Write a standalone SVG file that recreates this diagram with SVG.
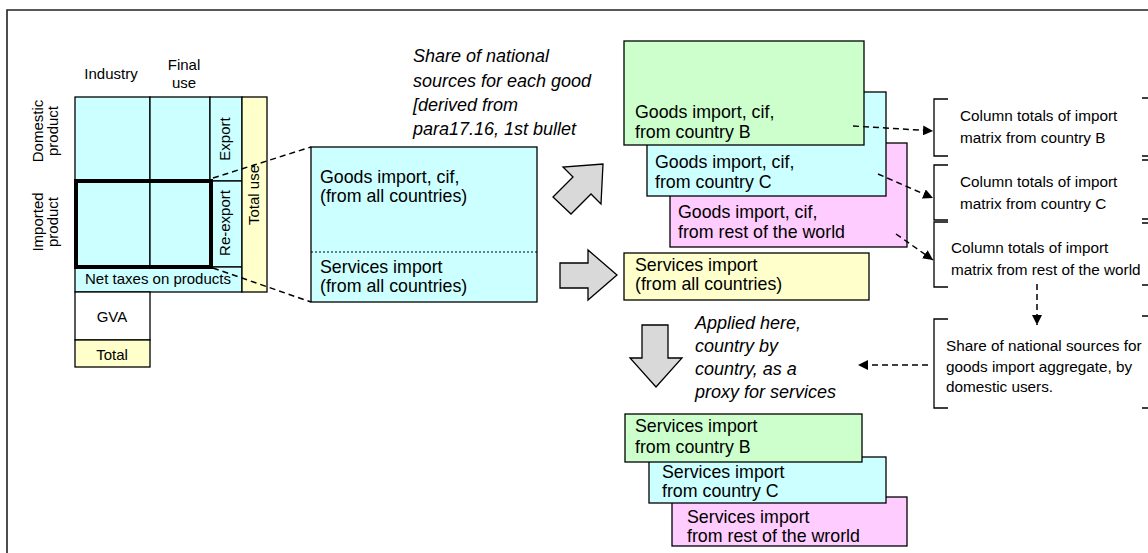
<svg xmlns="http://www.w3.org/2000/svg" width="1148" height="553" viewBox="0 0 1148 553">
<defs>
<style>
.t{font-family:"Liberation Sans",Arial,sans-serif;fill:#000}
.s15{font-size:15px}
.s18{font-size:17.8px}
.it{font-size:18px;font-style:italic}
.br{font-size:15.3px}
.cell{stroke:#000;stroke-width:1.3}
.cy{fill:#ccffff}
.ye{fill:#ffffcc}
.gr{fill:#ccffcc}
.pk{fill:#ffccff}
.wh{fill:#ffffff}
.big{fill:#d9d9d9;stroke:#000;stroke-width:1.3;stroke-linejoin:miter}
.dash{fill:none;stroke:#000;stroke-width:1.5;stroke-dasharray:6 4}
.brk{fill:none;stroke:#000;stroke-width:1.3}
</style>
<marker id="ah" viewBox="0 0 10 10" refX="10" refY="5" markerWidth="10" markerHeight="10" markerUnits="userSpaceOnUse" orient="auto">
<path d="M0,0 L10,5 L0,10 z" fill="#000"/>
</marker>
</defs>
<rect width="1148" height="553" fill="#fff"/>
<path d="M7,553 V10 H1148" fill="none" stroke="#222" stroke-width="1.6"/>

<g id="table">
<rect class="cell cy" x="75" y="97" width="75" height="84"/>
<rect class="cell cy" x="150" y="97" width="60" height="84"/>
<rect class="cell cy" x="210" y="97" width="32" height="84"/>
<rect class="cell cy" x="75" y="181" width="75" height="86"/>
<rect class="cell cy" x="150" y="181" width="60" height="86"/>
<rect class="cell cy" x="210" y="181" width="32" height="86"/>
<rect class="cell cy" x="75" y="267" width="167" height="25"/>
<rect class="cell ye" x="242" y="97" width="25" height="195"/>
<rect class="cell wh" x="75" y="292" width="75" height="48"/>
<rect class="cell ye" x="75" y="340" width="75" height="27"/>
<rect x="76" y="181" width="135" height="86" fill="none" stroke="#000" stroke-width="4"/>
<text class="t s15" x="111" y="79" text-anchor="middle">Industry</text>
<text class="t s15" x="184" y="70" text-anchor="middle">Final</text>
<text class="t s15" x="184" y="88" text-anchor="middle">use</text>
<text class="t s15" transform="translate(43,131) rotate(-90)" text-anchor="middle">Domestic</text>
<text class="t s15" transform="translate(58,131) rotate(-90)" text-anchor="middle">product</text>
<text class="t s15" transform="translate(43,222) rotate(-90)" text-anchor="middle">Imported</text>
<text class="t s15" transform="translate(58,222) rotate(-90)" text-anchor="middle">product</text>
<text class="t s15" transform="translate(230,139) rotate(-90)" text-anchor="middle">Export</text>
<text class="t s15" transform="translate(230,223) rotate(-90)" text-anchor="middle">Re-export</text>
<text class="t s15" transform="translate(259,195) rotate(-90)" text-anchor="middle">Total use</text>
<text class="t s15" x="158" y="284" text-anchor="middle">Net taxes on products</text>
<text class="t s15" x="112" y="322" text-anchor="middle">GVA</text>
<text class="t s15" x="112" y="360" text-anchor="middle">Total</text>
</g>

<g id="imports-all">
<rect class="cell cy" x="311" y="147" width="226" height="155"/>
<line x1="311" y1="252" x2="537" y2="252" stroke="#000" stroke-width="1.2" stroke-dasharray="2 2"/>
<text class="t s18" x="320" y="183">Goods import, cif,</text>
<text class="t s18" x="320" y="202">(from all countries)</text>
<text class="t s18" x="320" y="273">Services import</text>
<text class="t s18" x="320" y="292">(from all countries)</text>
</g>

<g id="note-share">
<text class="t it" x="413" y="62">Share of national</text>
<text class="t it" x="413" y="87">sources for each good</text>
<text class="t it" x="413" y="111">[derived from</text>
<text class="t it" x="413" y="135">para17.16, 1st bullet</text>
</g>

<g id="big-arrows">
<polygon class="big" points="603,164 601,204 591,194 571,214 553,197 573,177 563,167"/>
<polygon class="big" points="560,263 588,263 588,250 617,275 588,300 588,288 560,288"/>
<polygon class="big" points="642,325 668,325 668,358 682,358 656,387 630,358 642,358"/>
</g>

<g id="goods-rw">
<rect class="cell pk" x="670" y="143" width="237" height="104"/>
<text class="t s18" x="678" y="218">Goods import, cif,</text>
<text class="t s18" x="678" y="238">from rest of the world</text>
</g>
<g id="goods-c">
<rect class="cell cy" x="647" y="92" width="239" height="104"/>
<text class="t s18" x="655" y="168">Goods import, cif,</text>
<text class="t s18" x="655" y="188">from country C</text>
</g>
<g id="goods-b">
<rect class="cell gr" x="624" y="41" width="240" height="104"/>
<text class="t s18" x="635" y="118">Goods import, cif,</text>
<text class="t s18" x="635" y="138">from country B</text>
</g>
<g id="services-all">
<rect class="cell ye" x="624" y="253" width="245" height="47"/>
<text class="t s18" x="635" y="271">Services import</text>
<text class="t s18" x="635" y="290">(from all countries)</text>
</g>

<g id="note-applied">
<text class="t it" x="695" y="329">Applied here,</text>
<text class="t it" x="695" y="352">country by</text>
<text class="t it" x="695" y="375">country, as a</text>
<text class="t it" x="695" y="398">proxy for services</text>
</g>

<g id="services-rw">
<rect class="cell pk" x="672" y="497" width="235" height="49"/>
<text class="t s18" x="687" y="523">Services import</text>
<text class="t s18" x="687" y="542">from rest of the wrorld</text>
</g>
<g id="services-c">
<rect class="cell cy" x="649" y="457" width="237" height="46"/>
<text class="t s18" x="662" y="478">Services import</text>
<text class="t s18" x="662" y="497">from country C</text>
</g>
<g id="services-b">
<rect class="cell gr" x="625" y="414" width="237" height="48"/>
<text class="t s18" x="635" y="432">Services import</text>
<text class="t s18" x="635" y="453">from country B</text>
</g>

<g id="totals-b">
<path class="brk" d="M948,99 H934 V156 H948"/>
<text class="t br" x="960" y="121">Column totals of import</text>
<text class="t br" x="960" y="143">matrix from country B</text>
</g>
<g id="totals-c">
<path class="brk" d="M948,165 H934 V220 H948"/>
<text class="t br" x="960" y="187">Column totals of import</text>
<text class="t br" x="960" y="209">matrix from country C</text>
</g>
<g id="totals-rw">
<path class="brk" d="M948,222 H934 V287 H948"/>
<text class="t br" x="951" y="253">Column totals of import</text>
<text class="t br" x="951" y="275">matrix from rest of the world</text>
</g>
<g id="share-domestic">
<path class="brk" d="M948,319 H934 V408 H948"/>
<text class="t br" x="946" y="351">Share of national sources for</text>
<text class="t br" x="946" y="372">goods import aggregate, by</text>
<text class="t br" x="946" y="392">domestic users.</text>
</g>
<g id="edge-ticks">
<path class="brk" d="M1142,98 H1148 M1142,156 H1148 M1142,160 H1148 M1142,219 H1148 M1142,223 H1148 M1142,285 H1148 M1142,316 H1148 M1142,408 H1148"/>
</g>

<g id="connectors">
<line class="dash" x1="213" y1="178" x2="311" y2="147"/>
<line class="dash" x1="213" y1="268" x2="311" y2="302"/>
<line class="dash" x1="853" y1="126" x2="933" y2="131" marker-end="url(#ah)"/>
<line class="dash" x1="878" y1="174" x2="933" y2="198" marker-end="url(#ah)"/>
<line class="dash" x1="896" y1="234" x2="933" y2="260" marker-end="url(#ah)"/>
<line class="dash" x1="1037" y1="284" x2="1037" y2="325" marker-end="url(#ah)"/>
<line class="dash" x1="928" y1="365" x2="858" y2="365" marker-end="url(#ah)"/>
</g>
</svg>
